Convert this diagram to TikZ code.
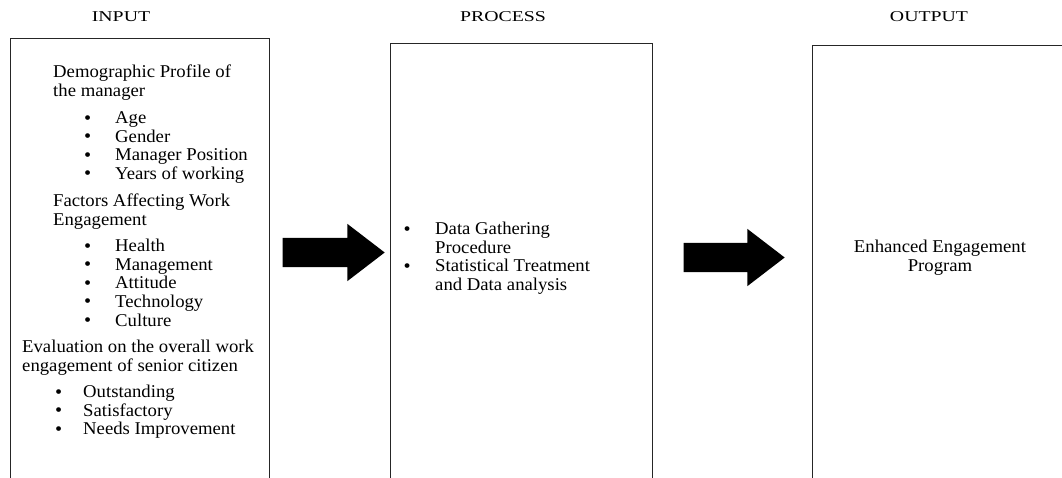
\documentclass[tikz,border=0pt]{standalone}
\usepackage{fontspec}
\setmainfont{Liberation Serif}[FakeStretch=1.04]
\newfontfamily\headfont{Liberation Serif}[FakeStretch=1.32]
\usetikzlibrary{shapes.arrows}

% a list bullet in a box of given width, a touch heavier than the text size
\newcommand{\bul}[1]{\makebox[#1][l]{\smash{\raisebox{-0.5pt}{\fontsize{19.5}{18.6}\selectfont\textbullet}}}}

\begin{document}
\begin{tikzpicture}[x=1pt,y=-1pt,
  panel/.style={draw=black!85,line width=1.2pt,anchor=north west,inner sep=0pt},
  heading/.style={anchor=base,inner sep=0pt,font=\headfont\fontsize{15}{18}\selectfont},
  % multi-line texts: the base anchor sits on the last line
  body/.style={anchor=base west,inner sep=0pt,align=left,font=\fontsize{18}{18.6}\selectfont},
  blockarrow/.style={single arrow,fill=black,draw=none,inner xsep=0pt,inner ysep=14.5pt,
    minimum width=57pt,single arrow head extend=14pt,single arrow tip angle=75,
    anchor=tip}]
\useasboundingbox (0,0) rectangle (1062,477);
\clip (0,0) rectangle (1062,477);

% column headings
\node[heading] (hin)  at (121,21.7) {INPUT};
\node[heading] (hpro) at (503,21.7) {PROCESS};
\node[heading] (hout) at (929,21.7) {OUTPUT};

% the three panels run past the lower edge
\node[panel,minimum width=259pt,minimum height=470pt] (inbox)  at (10,38) {};
\node[panel,minimum width=262pt,minimum height=470pt] (probox) at (390,43) {};
\node[panel,minimum width=280pt,minimum height=470pt] (outbox) at (812,45) {};

% input panel
\node[body] (demo) at (53,96.2) {Demographic Profile of\\the manager};
\node[body] (demolist) at (84,179.4) {\bul{31pt}Age\\\bul{31pt}Gender\\\bul{31pt}Manager Position\\\bul{31pt}Years of working};
\node[body] (fact) at (53,225.2) {Factors Affecting Work\\Engagement};
\node[body] (factlist) at (84,326) {\bul{31pt}Health\\\bul{31pt}Management\\\bul{31pt}Attitude\\\bul{31pt}Technology\\\bul{31pt}Culture};
\node[body] (eval) at (22,371.2) {Evaluation on the overall work\\engagement of senior citizen};
\node[body] (evallist) at (55,434.8) {\bul{28pt}Outstanding\\\bul{28pt}Satisfactory\\\bul{28pt}Needs Improvement};

% process panel
\node[body] (proc) at (403.5,290.4) {\bul{31.5pt}Data Gathering\\\hspace*{31.5pt}Procedure\\\bul{31.5pt}Statistical Treatment\\\hspace*{31.5pt}and Data analysis};

% output panel
\node[body,anchor=base,align=center] (prog) at (940,271.2) {Enhanced Engagement\\Program};

% block arrows between the panels
\node[blockarrow,minimum height=102pt] (arrA) at (385,252.5) {};
\node[blockarrow,minimum height=101pt] (arrB) at (785,257.5) {};
\end{tikzpicture}
\end{document}
